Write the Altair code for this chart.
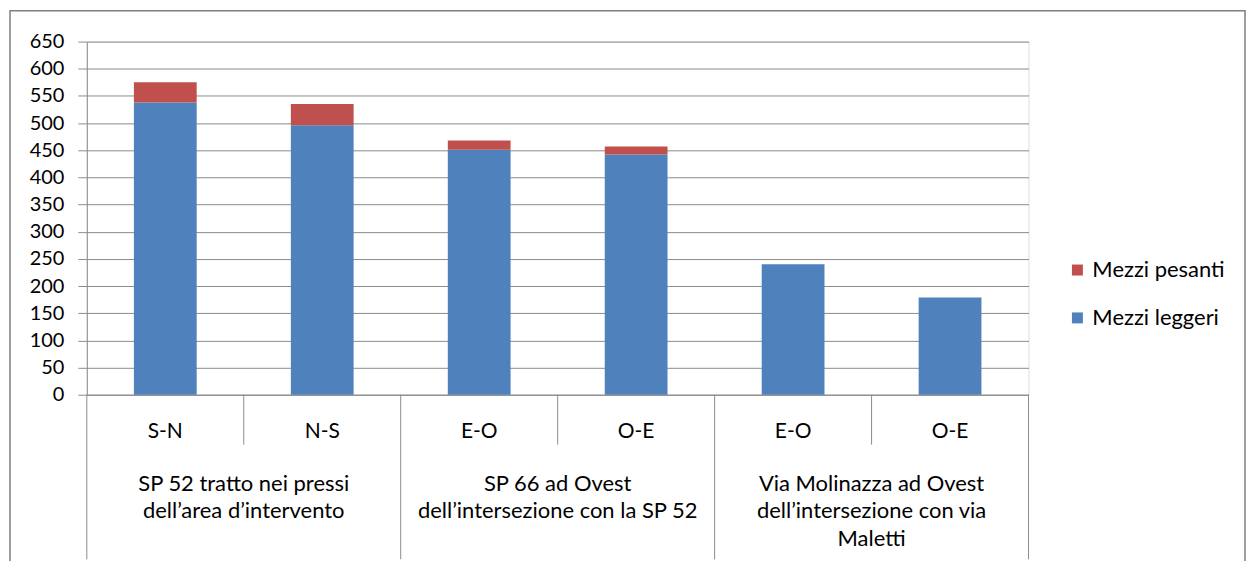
import altair as alt
import pandas as pd

categories = ["S-N", "N-S", "E-O", "O-E", "E-O", "O-E"]
leggeri = [538, 496, 451, 442, 240, 179]
pesanti = [37, 39, 17, 15, 0, 0]
groups = [
    "SP 52 tratto nei pressi\ndell’area d’intervento",
    "SP 66 ad Ovest\ndell’intersezione con la SP 52",
    "Via Molinazza ad Ovest\ndell’intersezione con via\nMaletti",
]
series = ["Mezzi pesanti", "Mezzi leggeri"]
colors = ["#C0504D", "#4F81BD"]
y_ticks = list(range(0, 651, 50))

FONT = "Lato, sans-serif"
W, H = 944, 354
GRID = "#8c8c8c"

rows = []
for i, c in enumerate(categories):
    rows.append({"pos": i + 0.5, "cat": c, "series": "Mezzi leggeri", "value": leggeri[i], "ord": 0})
    rows.append({"pos": i + 0.5, "cat": c, "series": "Mezzi pesanti", "value": pesanti[i], "ord": 1})
df = pd.DataFrame(rows)

cat_df = pd.DataFrame({"pos": [i + 0.5 for i in range(len(categories))], "cat": categories})
grp_df = pd.DataFrame({"pos": [2 * g + 1 for g in range(len(groups))], "label": groups})
major_df = pd.DataFrame({"pos": [2 * g for g in range(len(groups) + 1)]})
minor_df = pd.DataFrame({"pos": [2 * g + 1 for g in range(len(groups))]})

xscale = alt.Scale(domain=[0, 6], nice=False, zero=False)

bars = alt.Chart(df).transform_stack(
    stack="value", as_=["v0", "v1"], groupby=["pos"], sort=[alt.SortField("ord", order="ascending")]
).transform_calculate(
    x0="datum.pos - 0.2", x1="datum.pos + 0.2"
).mark_bar().encode(
    x=alt.X("x0:Q", scale=xscale,
            axis=alt.Axis(labels=False, ticks=False, grid=False, title=None,
                          domainColor=GRID, domainWidth=1)),
    x2="x1:Q",
    y=alt.Y("v0:Q",
            scale=alt.Scale(domain=[0, 650], nice=False),
            axis=alt.Axis(values=y_ticks, title=None, grid=True, gridColor=GRID,
                          domainColor=GRID, tickColor=GRID, tickSize=9,
                          labelPadding=14, labelFontSize=20, labelFont=FONT,
                          labelColor="#000000")),
    y2="v1:Q",
    color=alt.Color("series:N",
                    scale=alt.Scale(domain=series, range=colors),
                    legend=alt.Legend(title=None, orient="none", legendX=982, legendY=218,
                                      symbolType="square", symbolSize=121,
                                      symbolStrokeWidth=0,
                                      labelFontSize=22, labelFont=FONT, labelColor="#000000",
                                      rowPadding=26, labelOffset=4)),
)

cat_text = alt.Chart(cat_df).mark_text(fontSize=21, font=FONT, color="#000000", baseline="alphabetic").encode(
    x=alt.X("pos:Q", scale=xscale), y=alt.value(H + 43), text="cat:N"
)

grp_text = alt.Chart(grp_df).mark_text(fontSize=22, font=FONT, color="#000000", baseline="alphabetic",
                                       lineBreak="\n", lineHeight=28).encode(
    x=alt.X("pos:Q", scale=xscale), y=alt.value(H + 96), text="label:N"
)

major = alt.Chart(major_df).mark_rule(color=GRID, strokeWidth=1).encode(
    x=alt.X("pos:Q", scale=xscale), y=alt.value(H), y2=alt.value(H + 165)
)
minor = alt.Chart(minor_df).mark_rule(color=GRID, strokeWidth=1).encode(
    x=alt.X("pos:Q", scale=xscale), y=alt.value(H), y2=alt.value(H + 50)
)

frame = alt.Chart(alt.Data(values=[{}])).mark_rect(fill="transparent", stroke="#7f7f7f", strokeWidth=1.5).encode(
    x=alt.value(-77), x2=alt.value(1161), y=alt.value(-31), y2=alt.value(H + 200)
)

chart = alt.layer(frame, bars, major, minor, cat_text, grp_text).properties(
    width=W, height=H,
    autosize=alt.AutoSizeParams(type="none"),
    padding={"left": 79, "top": 33, "right": 219, "bottom": 166},
).configure_view(stroke=None).configure(background="white")

chart.save("out.html", embed_options={"renderer": "svg", "actions": False})
